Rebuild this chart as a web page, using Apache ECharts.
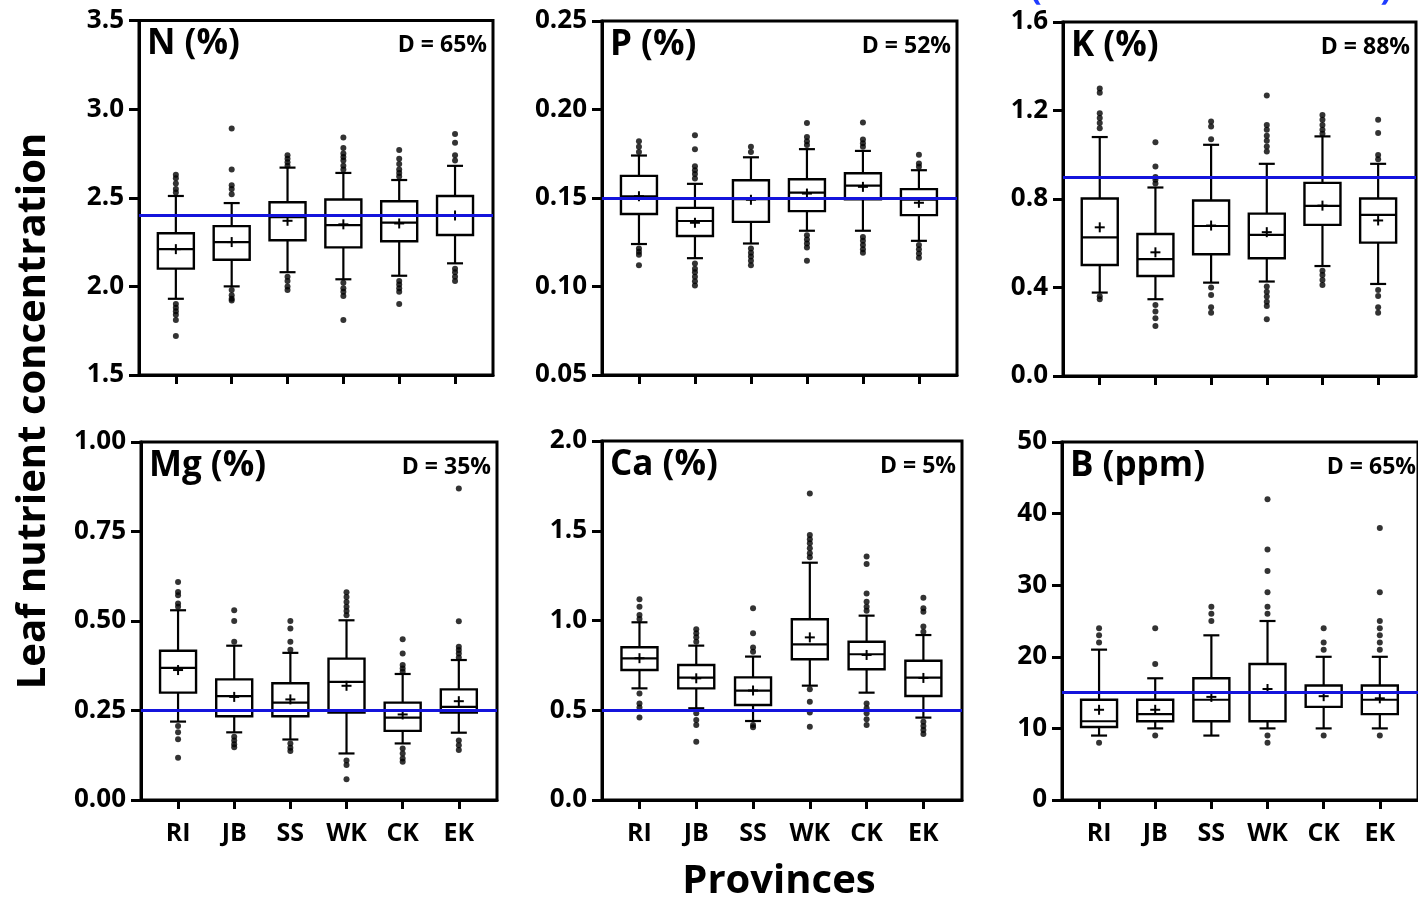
<!DOCTYPE html>
<html>
<head>
<meta charset="utf-8">
<script src="https://cdn.jsdelivr.net/npm/echarts@6/dist/echarts.min.js"></script>
<style>
html,body{margin:0;padding:0;background:#fff;}
#chart{width:1418px;height:900px;}
</style>
</head>
<body>
<div id="chart"></div>
<script>
// ---------------- data ----------------
const categories = ['RI', 'JB', 'SS', 'WK', 'CK', 'EK'];
const panelTitles = ['N (%)', 'P (%)', 'K (%)', 'Mg (%)', 'Ca (%)', 'B (ppm)'];
const dLabels = ['D = 65%', 'D = 52%', 'D = 88%', 'D = 35%', 'D = 5%', 'D = 65%'];
const refValues = [2.4, 0.15, 0.9, 0.25, 0.5, 15];
const yMin = [1.5, 0.05, 0.0, 0.0, 0.0, 0];
const yMax = [3.5, 0.25, 1.6, 1.0, 2.0, 50];
const yStep = [0.5, 0.05, 0.4, 0.25, 0.5, 10];
const yDecimals = [1, 2, 1, 2, 1, 0];

// box stats per province: [lower whisker, Q1, median, Q3, upper whisker]
const nBox = [[1.93,2.10,2.21,2.30,2.51],[2.00,2.15,2.25,2.34,2.47],[2.08,2.26,2.39,2.475,2.67],[2.04,2.22,2.345,2.49,2.64],[2.06,2.255,2.36,2.48,2.60],[2.13,2.29,2.40,2.51,2.68]];
const nMean = [2.21, 2.25, 2.37, 2.35, 2.355, 2.40];
const nOut = [[2.63,2.61,2.58,2.55,2.53,1.90,1.88,1.86,1.84,1.81,1.72],[2.89,2.66,2.57,2.55,2.52,1.98,1.95,1.93,1.92],[2.74,2.72,2.70,2.68,2.055,2.03,2.00,1.98],[2.84,2.78,2.75,2.73,2.71,2.68,2.66,2.02,1.99,1.97,1.945,1.81],[2.77,2.72,2.69,2.66,2.64,2.62,2.03,2.01,1.99,1.97,1.90],[2.86,2.81,2.74,2.71,2.10,2.08,2.055,2.03]];

const pBox = [[0.124,0.141,0.151,0.1625,0.174],[0.116,0.1285,0.137,0.1444,0.158],[0.1243,0.1365,0.1493,0.160,0.173],[0.1315,0.1426,0.153,0.1606,0.1776],[0.1315,0.1493,0.157,0.164,0.1766],[0.1258,0.1403,0.149,0.155,0.1657]];
const pMean = [0.151, 0.136, 0.149, 0.1525, 0.1563, 0.1473];
const pOut = [[0.182,0.179,0.176,0.1215,0.1196,0.118,0.112],[0.1855,0.1776,0.168,0.1657,0.1635,0.161,0.113,0.110,0.108,0.1055,0.103,0.1006],[0.179,0.176,0.1215,0.119,0.117,0.1145,0.112],[0.1924,0.1845,0.182,0.180,0.129,0.1266,0.1243,0.122,0.1145],[0.1926,0.183,0.181,0.179,0.128,0.1258,0.1234,0.121,0.119],[0.1745,0.1695,0.1676,0.1234,0.121,0.1187,0.1162]];

const kBox = [[0.377,0.502,0.627,0.802,1.08],[0.347,0.452,0.528,0.642,0.852],[0.422,0.55,0.678,0.793,1.045],[0.427,0.532,0.638,0.734,0.959],[0.497,0.683,0.769,0.873,1.083],[0.416,0.603,0.728,0.802,0.959]];
const kMean = [0.672, 0.559, 0.68, 0.65, 0.77, 0.703];
const kOut = [[1.30,1.28,1.188,1.166,1.143,1.12,0.36,0.347],[1.057,0.947,0.90,0.887,0.87,0.321,0.291,0.261,0.226],[1.15,1.128,1.07,0.40,0.366,0.311,0.286],[1.268,1.135,1.113,1.086,1.063,1.037,1.015,0.404,0.381,0.359,0.336,0.316,0.256],[1.18,1.158,1.135,1.113,1.095,0.476,0.457,0.434,0.411],[1.158,1.098,0.999,0.98,0.389,0.362,0.311,0.286]];

const mgBox = [[0.219,0.30,0.369,0.417,0.53],[0.189,0.234,0.29,0.337,0.431],[0.169,0.234,0.272,0.326,0.411],[0.13,0.244,0.33,0.395,0.502],[0.158,0.193,0.23,0.272,0.352],[0.188,0.244,0.26,0.309,0.391]];
const mgMean = [0.363, 0.288, 0.281, 0.319, 0.239, 0.276];
const mgOut = [[0.609,0.581,0.572,0.549,0.54,0.207,0.189,0.17,0.118],[0.53,0.50,0.442,0.177,0.166,0.156,0.147],[0.50,0.479,0.442,0.42,0.158,0.146,0.137],[0.58,0.567,0.553,0.54,0.528,0.516,0.11,0.098,0.058],[0.449,0.409,0.377,0.367,0.358,0.144,0.13,0.116,0.107],[0.87,0.499,0.428,0.419,0.409,0.398,0.166,0.153,0.14]];

const caBox = [[0.622,0.724,0.789,0.851,0.99],[0.511,0.622,0.682,0.752,0.86],[0.44,0.529,0.609,0.683,0.799],[0.637,0.784,0.867,1.007,1.322],[0.598,0.728,0.812,0.882,1.027],[0.459,0.579,0.682,0.776,0.919]];
const caMean = [0.79, 0.678, 0.61, 0.906, 0.808, 0.68];
const caOut = [[1.118,1.077,1.031,1.008,0.594,0.538,0.516,0.459],[0.951,0.929,0.906,0.882,0.483,0.446,0.418,0.325],[1.068,0.929,0.849,0.826,0.418,0.405],[1.708,1.476,1.452,1.43,1.402,1.374,1.352,0.617,0.548,0.487,0.408],[1.356,1.315,1.151,1.105,1.077,1.055,0.538,0.511,0.483,0.45,0.418],[1.127,1.068,1.049,0.966,0.938,0.436,0.412,0.39,0.368]];

const bBox = [[9,10.2,11,14,21],[10,11,12,14,17],[9,11,14,17,23],[10,11,15,19,25],[10,13,15,16,20],[10,12,14,16,20]];
const bMean = [12.6, 12.6, 14.4, 15.5, 14.5, 14.2];
const bOut = [[24,23,22,8],[24,19,9],[27,26,25],[42,35,32,29,27,26,9,8],[24,22,21,9],[38,29,25,24,23,22,21,9]];

// ---------------- layout ----------------
const boxes = [nBox, pBox, kBox, mgBox, caBox, bBox];
const means = [nMean, pMean, kMean, mgMean, caMean, bMean];
const outs = [nOut, pOut, kOut, mgOut, caOut, bOut];

const grids = [
  {left:139, top:20.5, width:354, height:354.5},
  {left:602, top:21, width:355, height:354},
  {left:1063, top:22, width:353, height:354},
  {left:141, top:442, width:356, height:358},
  {left:602, top:441, width:360, height:359},
  {left:1062, top:442, width:360, height:358}
];
const FONT = '"Open Sans", Lato, "DejaVu Sans", sans-serif';
const INK = '#000';

const chart = echarts.init(document.getElementById('chart'), null, {renderer:'canvas'});

function renderBox(params, api) {
  const x = api.value(0);
  const lo = api.coord([x, api.value(1)]);
  const q1 = api.coord([x, api.value(2)]);
  const md = api.coord([x, api.value(3)]);
  const q3 = api.coord([x, api.value(4)]);
  const hi = api.coord([x, api.value(5)]);
  const mn = api.coord([x, api.value(6)]);
  const cx = md[0];
  const hw = 18, cw = 8, pw = 5;
  const ls = {stroke: INK, lineWidth: 2.2, fill: null};
  return {
    type: 'group',
    children: [
      {type:'rect', shape:{x:cx-hw, y:q3[1], width:2*hw, height:q1[1]-q3[1]}, style:{stroke:INK, lineWidth:2.4, fill:'rgba(0,0,0,0)'}},
      {type:'line', shape:{x1:cx-hw, y1:md[1], x2:cx+hw, y2:md[1]}, style:ls},
      {type:'line', shape:{x1:cx, y1:q3[1], x2:cx, y2:hi[1]}, style:ls},
      {type:'line', shape:{x1:cx, y1:q1[1], x2:cx, y2:lo[1]}, style:ls},
      {type:'line', shape:{x1:cx-cw, y1:hi[1], x2:cx+cw, y2:hi[1]}, style:ls},
      {type:'line', shape:{x1:cx-cw, y1:lo[1], x2:cx+cw, y2:lo[1]}, style:ls},
      {type:'line', shape:{x1:cx-pw, y1:mn[1], x2:cx+pw, y2:mn[1]}, style:{stroke:INK, lineWidth:2}},
      {type:'line', shape:{x1:cx, y1:mn[1]-pw, x2:cx, y2:mn[1]+pw}, style:{stroke:INK, lineWidth:2}}
    ]
  };
}

const option = {
  animation: false,
  backgroundColor: '#fff',
  grid: [], xAxis: [], yAxis: [], series: [], graphic: []
};

for (let i = 0; i < 6; i++) {
  const g = grids[i];
  const bottomRow = i >= 3;
  option.grid.push(Object.assign({show:true, borderColor:INK, borderWidth:3, backgroundColor:'rgba(0,0,0,0)', containLabel:false}, g));
  option.xAxis.push({
    gridIndex: i, type: 'value', min: 0.34, max: 6.68,
    axisLine: {show:true, onZero:false, lineStyle:{color:INK, width:3}},
    axisTick: {show:true, customValues:[1,2,3,4,5,6], length:9, inside:false, lineStyle:{color:INK, width:3}},
    axisLabel: {show:bottomRow, customValues:[1,2,3,4,5,6], formatter: v => categories[Math.round(v)-1] || '',
      margin:21, fontSize:25, fontWeight:'bold', color:INK, fontFamily:FONT},
    splitLine: {show:false}
  });
  const dec = yDecimals[i];
  option.yAxis.push({
    gridIndex: i, type: 'value', min: yMin[i], max: yMax[i], interval: yStep[i],
    axisLine: {show:true, onZero:false, lineStyle:{color:INK, width:3}},
    axisTick: {show:true, length:10, inside:false, lineStyle:{color:INK, width:3}},
    axisLabel: {formatter: v => Number(v).toFixed(dec), margin:15, fontSize:26, fontWeight:'bold', color:INK, fontFamily:FONT},
    splitLine: {show:false}
  });
  const boxData = boxes[i].map((b, k) => [k+1, b[0], b[1], b[2], b[3], b[4], means[i][k]]);
  option.series.push({
    type: 'custom', xAxisIndex: i, yAxisIndex: i, renderItem: renderBox,
    encode: {x: 0, y: [1,2,3,4,5,6]}, data: boxData, z: 3, silent: true
  });
  const outData = [];
  outs[i].forEach((arr, k) => arr.forEach(v => outData.push([k+1, v])));
  option.series.push({
    type: 'scatter', xAxisIndex: i, yAxisIndex: i, data: outData,
    symbol: 'circle', symbolSize: 6, itemStyle: {color: INK}, z: 4, silent: true,
    markLine: {silent:true, symbol:'none', label:{show:false}, animation:false,
      lineStyle:{color:'#1414dc', width:3, type:'solid'}, data:[{yAxis: refValues[i]}]}
  });
  option.graphic.push({
    type:'text', x: g.left + 8, y: g.top + 24,
    style:{text: panelTitles[i], font: 'bold 35px ' + FONT, fill: INK, textAlign:'left', textVerticalAlign:'middle'}
  });
  option.graphic.push({
    type:'text', x: g.left + g.width - 6, y: g.top + 25,
    style:{text: dLabels[i], font: 'bold 23px ' + FONT, fill: INK, textAlign:'right', textVerticalAlign:'middle'}
  });
}

option.graphic.push({
  type:'text', x: 34, y: 411, rotation: Math.PI/2,
  style:{text:'Leaf nutrient concentration', font:'bold 40px ' + FONT, fill: INK, textAlign:'center', textVerticalAlign:'middle'}
});
option.graphic.push({
  type:'text', x: 779, y: 882,
  style:{text:'Provinces', font:'bold 40px ' + FONT, fill: INK, textAlign:'center', textVerticalAlign:'middle'}
});
option.graphic.push({
  type:'text', x: 1036, y: 6,
  style:{text:'(', font:'bold 34px ' + FONT, fill:'#1f3cff', textAlign:'center', textVerticalAlign:'bottom'}
});
option.graphic.push({
  type:'text', x: 1386, y: 6,
  style:{text:')', font:'bold 34px ' + FONT, fill:'#1f3cff', textAlign:'center', textVerticalAlign:'bottom'}
});

chart.setOption(option);
</script>
</body>
</html>
